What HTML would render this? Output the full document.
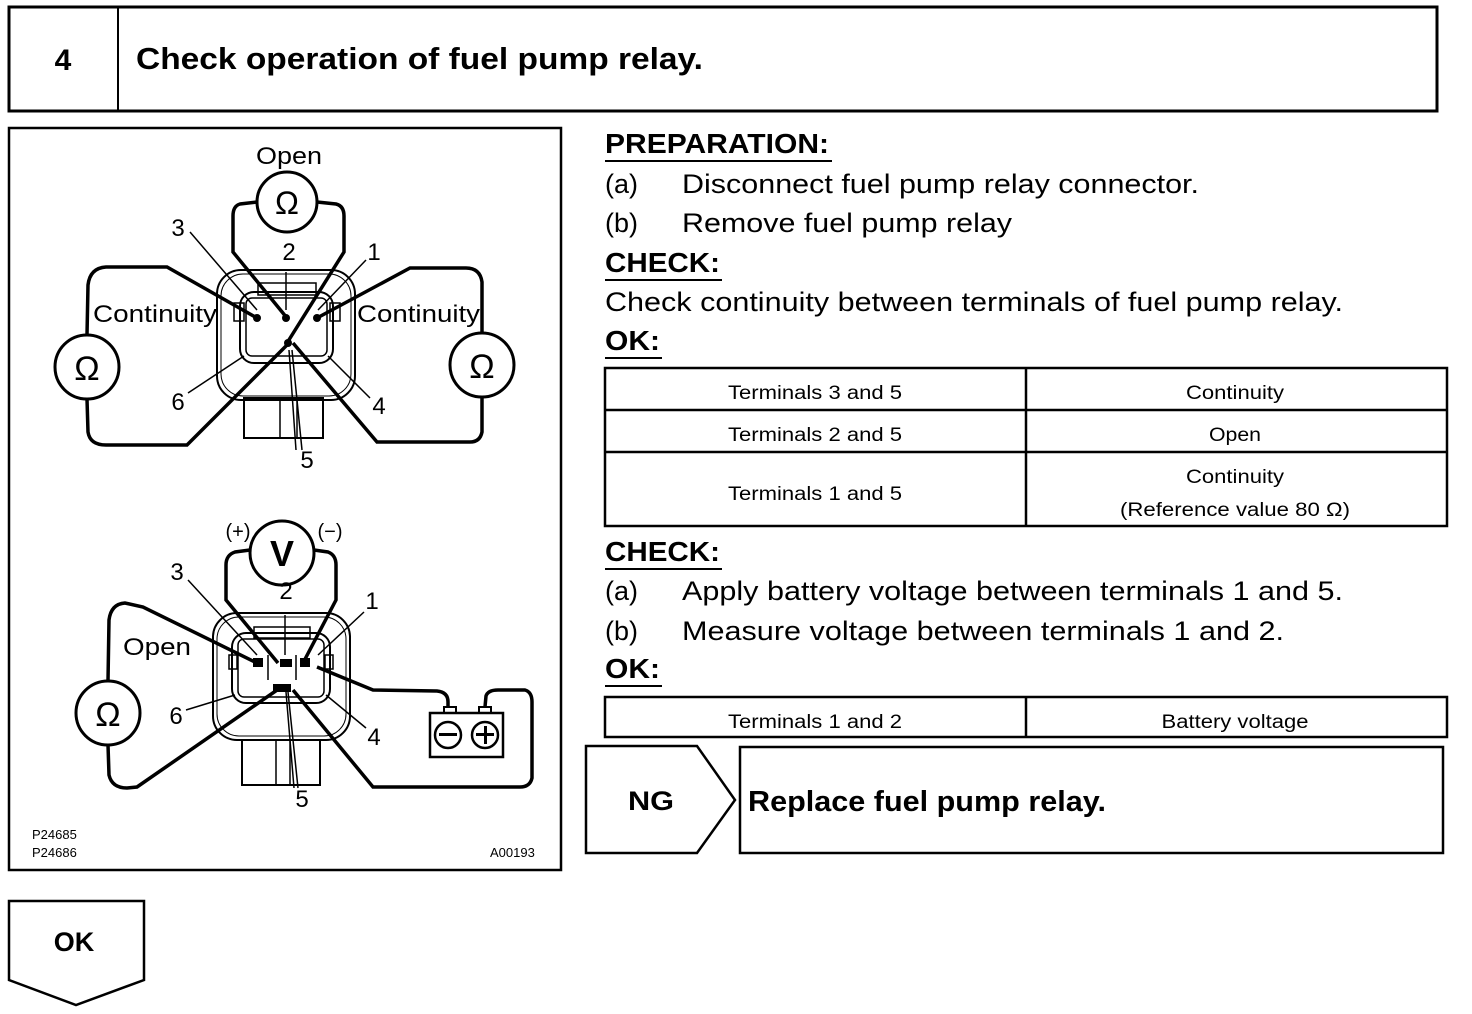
<!DOCTYPE html>
<html><head><meta charset="utf-8"><style>
html,body{margin:0;padding:0;background:#fff;}
svg{display:block;}
text{font-family:"Liberation Sans",Arial,sans-serif;fill:#000;}
</style></head><body>
<svg width="1472" height="1014" viewBox="0 0 1472 1014" xmlns="http://www.w3.org/2000/svg">
<!-- header -->
<rect x="9" y="7" width="1428" height="104" fill="none" stroke="#000" stroke-width="3"/>
<line x1="118" y1="7" x2="118" y2="111" stroke="#000" stroke-width="2"/>
<text x="63" y="70" font-size="30" font-weight="bold" text-anchor="middle">4</text>
<text x="136" y="69" font-size="31" font-weight="bold" textLength="567" lengthAdjust="spacingAndGlyphs">Check operation of fuel pump relay.</text>

<!-- diagram box -->
<rect x="9" y="128" width="552" height="742" fill="none" stroke="#000" stroke-width="2.5"/>

<g fill="none" stroke="#000">
<!-- TOP connector -->
<rect x="217" y="270" width="138" height="130" rx="24" stroke-width="2"/>
<rect x="221" y="274" width="130" height="122" rx="22" stroke-width="1"/>
<rect x="240" y="292" width="93" height="71" rx="14" stroke-width="2"/>
<rect x="246" y="298" width="81" height="58" rx="6" stroke-width="1.5"/>
<rect x="258" y="283" width="58" height="12" stroke-width="1.5"/>
<line x1="286" y1="272" x2="286" y2="310" stroke-width="1.5"/>
<rect x="234" y="303" width="10" height="18" stroke-width="1.5"/>
<rect x="330" y="303" width="10" height="18" stroke-width="1.5"/>
<rect x="244" y="398" width="79" height="40" stroke-width="2"/>
<line x1="280" y1="398" x2="280" y2="438" stroke-width="1.5"/>
<line x1="297" y1="398" x2="297" y2="438" stroke-width="1.5"/>
<!-- meters -->
<circle cx="287" cy="202" r="30" stroke-width="3"/>
<circle cx="87" cy="367" r="32" stroke-width="3"/>
<circle cx="482" cy="365" r="32" stroke-width="3"/>
<!-- wires -->
<path d="M257 202 L240 204 Q233 206 233 216 L233 252 L287 318" stroke-width="3.5"/>
<path d="M317 202 L336 204 Q344 206 344 216 L344 252 L287 343" stroke-width="3.5"/>
<path d="M87 335 L88 285 Q90 268 106 267 L167 267 L257 318" stroke-width="3.5"/>
<path d="M87 399 L88 432 Q90 445 106 445 L187 445 L290 342" stroke-width="3.5"/>
<path d="M482 333 L482 282 Q480 268 466 268 L410 268 L317 318" stroke-width="3.5"/>
<path d="M482 397 L482 432 Q480 442 470 442 L377 442 L293 343" stroke-width="3.5"/>
<!-- leader lines -->
<line x1="190" y1="232" x2="257" y2="310" stroke-width="1.5"/>
<line x1="366" y1="260" x2="318" y2="310" stroke-width="1.5"/>
<line x1="188" y1="393" x2="244" y2="356" stroke-width="1.5"/>
<line x1="370" y1="398" x2="328" y2="356" stroke-width="1.5"/>
<line x1="296" y1="450" x2="289" y2="350" stroke-width="1.5"/>
<line x1="302" y1="450" x2="292" y2="350" stroke-width="1.5"/>
</g>
<g fill="#000">
<circle cx="257" cy="318" r="4"/><circle cx="286" cy="318" r="4"/><circle cx="317" cy="318" r="4"/><circle cx="288" cy="343" r="4"/>
</g>
<text x="289" y="164" font-size="24" text-anchor="middle" textLength="66" lengthAdjust="spacingAndGlyphs">Open</text>
<text x="287" y="214" font-size="32" text-anchor="middle">Ω</text>
<text x="87" y="380" font-size="34" text-anchor="middle">Ω</text>
<text x="482" y="378" font-size="34" text-anchor="middle">Ω</text>
<text x="93" y="322" font-size="24" textLength="124" lengthAdjust="spacingAndGlyphs">Continuity</text>
<text x="357" y="322" font-size="24" textLength="123" lengthAdjust="spacingAndGlyphs">Continuity</text>
<text x="178" y="236" font-size="24" text-anchor="middle">3</text>
<text x="289" y="260" font-size="24" text-anchor="middle">2</text>
<text x="374" y="260" font-size="24" text-anchor="middle">1</text>
<text x="178" y="410" font-size="24" text-anchor="middle">6</text>
<text x="379" y="414" font-size="24" text-anchor="middle">4</text>
<text x="307" y="468" font-size="24" text-anchor="middle">5</text>

<!-- BOTTOM connector -->
<g fill="none" stroke="#000">
<rect x="213" y="613" width="137" height="127" rx="24" stroke-width="2"/>
<rect x="217" y="617" width="129" height="119" rx="22" stroke-width="1"/>
<rect x="232" y="633" width="98" height="70" rx="14" stroke-width="2"/>
<rect x="238" y="639" width="86" height="58" rx="6" stroke-width="1.5"/>
<rect x="254" y="627" width="56" height="11" stroke-width="1.5"/>
<line x1="285" y1="615" x2="285" y2="655" stroke-width="1.5"/>
<rect x="229" y="655" width="8" height="14" stroke-width="1.5"/>
<rect x="325" y="655" width="8" height="14" stroke-width="1.5"/>
<line x1="268" y1="655" x2="268" y2="680" stroke-width="1.5"/>
<line x1="296" y1="655" x2="296" y2="680" stroke-width="1.5"/>
<rect x="242" y="740" width="78" height="45" stroke-width="2"/>
<line x1="276" y1="740" x2="276" y2="785" stroke-width="1.5"/>
<line x1="290" y1="740" x2="290" y2="785" stroke-width="1.5"/>
<circle cx="282" cy="553" r="32" stroke-width="3"/>
<circle cx="108" cy="713" r="32" stroke-width="3"/>
<rect x="430" y="713" width="73" height="44" stroke-width="2.5"/>
<rect x="444" y="707" width="12" height="6" stroke-width="2"/>
<rect x="479" y="707" width="12" height="6" stroke-width="2"/>
<circle cx="448" cy="735" r="13" stroke-width="2.5"/>
<circle cx="485" cy="735" r="13" stroke-width="2.5"/>
<path d="M250 550 L235 552 Q226 555 226 565 L226 600 L278 663" stroke-width="3.5"/>
<path d="M314 550 L328 552 Q336 555 336 565 L336 600 L303 663" stroke-width="3.5"/>
<path d="M108 681 L109 620 Q111 604 125 603 L143 607 L257 663" stroke-width="3.5"/>
<path d="M108 745 L109 775 Q112 788 127 788 L137 787 L280 688" stroke-width="3.5"/>
<path d="M317 667 L373 690 L437 691 Q448 692 448 702 L448 707" stroke-width="3.5"/>
<path d="M485 707 L486 696 Q488 690 498 690 L525 690 Q532 692 532 702 L532 778 Q530 787 520 787 L373 787 L293 690" stroke-width="3.5"/>
<line x1="188" y1="580" x2="257" y2="655" stroke-width="1.5"/>
<line x1="364" y1="612" x2="318" y2="655" stroke-width="1.5"/>
<line x1="186" y1="710" x2="235" y2="695" stroke-width="1.5"/>
<line x1="366" y1="728" x2="326" y2="695" stroke-width="1.5"/>
<line x1="294" y1="788" x2="286" y2="692" stroke-width="1.5"/>
<line x1="298" y1="788" x2="288" y2="692" stroke-width="1.5"/>
</g>
<g fill="#000">
<rect x="253" y="658" width="10" height="9"/><rect x="280" y="659" width="12" height="8"/><rect x="300" y="658" width="10" height="9"/>
<rect x="273" y="684" width="18" height="8"/>
<rect x="439" y="733" width="18" height="3"/><rect x="476" y="733" width="18" height="3"/><rect x="484" y="726" width="3" height="18"/>
</g>
<text x="282" y="566" font-size="36" font-weight="bold" text-anchor="middle">V</text>
<text x="108" y="726" font-size="34" text-anchor="middle">Ω</text>
<text x="238" y="538" font-size="20" text-anchor="middle">(+)</text>
<text x="330" y="538" font-size="20" text-anchor="middle">(−)</text>
<text x="157" y="655" font-size="24" text-anchor="middle" textLength="68" lengthAdjust="spacingAndGlyphs">Open</text>
<text x="177" y="580" font-size="24" text-anchor="middle">3</text>
<text x="286" y="599" font-size="24" text-anchor="middle">2</text>
<text x="372" y="609" font-size="24" text-anchor="middle">1</text>
<text x="176" y="724" font-size="24" text-anchor="middle">6</text>
<text x="374" y="745" font-size="24" text-anchor="middle">4</text>
<text x="302" y="807" font-size="24" text-anchor="middle">5</text>

<text x="32" y="839" font-size="13">P24685</text>
<text x="32" y="857" font-size="13">P24686</text>
<text x="490" y="857" font-size="13">A00193</text>

<!-- right text -->
<text x="605" y="153" font-size="28" font-weight="bold" textLength="224" lengthAdjust="spacingAndGlyphs">PREPARATION:</text>
<line x1="605" y1="161" x2="832" y2="161" stroke="#000" stroke-width="2"/>
<text x="605" y="193" font-size="27">(a)</text><text x="682" y="193" font-size="27" textLength="517" lengthAdjust="spacingAndGlyphs">Disconnect fuel pump relay connector.</text>
<text x="605" y="232" font-size="27">(b)</text><text x="682" y="232" font-size="27" textLength="330" lengthAdjust="spacingAndGlyphs">Remove fuel pump relay</text>
<text x="605" y="272" font-size="28" font-weight="bold" textLength="115" lengthAdjust="spacingAndGlyphs">CHECK:</text>
<line x1="605" y1="280" x2="722" y2="280" stroke="#000" stroke-width="2"/>
<text x="605" y="311" font-size="27" textLength="738" lengthAdjust="spacingAndGlyphs">Check continuity between terminals of fuel pump relay.</text>
<text x="605" y="350" font-size="28" font-weight="bold" textLength="55" lengthAdjust="spacingAndGlyphs">OK:</text>
<line x1="605" y1="358" x2="662" y2="358" stroke="#000" stroke-width="2"/>

<g fill="none" stroke="#000" stroke-width="2.5">
<rect x="605" y="368" width="842" height="158"/>
<line x1="605" y1="410" x2="1447" y2="410"/>
<line x1="605" y1="452" x2="1447" y2="452"/>
<line x1="1026" y1="368" x2="1026" y2="526"/>
</g>
<g font-size="19" text-anchor="middle">
<text x="815" y="399" textLength="174" lengthAdjust="spacingAndGlyphs">Terminals 3 and 5</text><text x="1235" y="399" textLength="98" lengthAdjust="spacingAndGlyphs">Continuity</text>
<text x="815" y="441" textLength="174" lengthAdjust="spacingAndGlyphs">Terminals 2 and 5</text><text x="1235" y="441" textLength="52" lengthAdjust="spacingAndGlyphs">Open</text>
<text x="815" y="500" textLength="174" lengthAdjust="spacingAndGlyphs">Terminals 1 and 5</text><text x="1235" y="483" textLength="98" lengthAdjust="spacingAndGlyphs">Continuity</text>
<text x="1235" y="516" textLength="230" lengthAdjust="spacingAndGlyphs">(Reference value 80 Ω)</text>
</g>

<text x="605" y="561" font-size="28" font-weight="bold" textLength="115" lengthAdjust="spacingAndGlyphs">CHECK:</text>
<line x1="605" y1="569" x2="722" y2="569" stroke="#000" stroke-width="2"/>
<text x="605" y="600" font-size="27">(a)</text><text x="682" y="600" font-size="27" textLength="661" lengthAdjust="spacingAndGlyphs">Apply battery voltage between terminals 1 and 5.</text>
<text x="605" y="640" font-size="27">(b)</text><text x="682" y="640" font-size="27" textLength="602" lengthAdjust="spacingAndGlyphs">Measure voltage between terminals 1 and 2.</text>
<text x="605" y="678" font-size="28" font-weight="bold" textLength="55" lengthAdjust="spacingAndGlyphs">OK:</text>
<line x1="605" y1="686" x2="662" y2="686" stroke="#000" stroke-width="2"/>

<g fill="none" stroke="#000" stroke-width="2.5">
<rect x="605" y="697" width="842" height="40"/>
<line x1="1026" y1="697" x2="1026" y2="737"/>
</g>
<text x="815" y="728" font-size="19" text-anchor="middle" textLength="174" lengthAdjust="spacingAndGlyphs">Terminals 1 and 2</text>
<text x="1235" y="728" font-size="19" text-anchor="middle" textLength="147" lengthAdjust="spacingAndGlyphs">Battery voltage</text>

<!-- NG -->
<path d="M586 746 L697 746 L735 800 L697 853 L586 853 Z" fill="none" stroke="#000" stroke-width="2.5"/>
<text x="651" y="810" font-size="27" font-weight="bold" text-anchor="middle" textLength="46" lengthAdjust="spacingAndGlyphs">NG</text>
<rect x="740" y="747" width="703" height="106" fill="none" stroke="#000" stroke-width="2.5"/>
<text x="748" y="811" font-size="29" font-weight="bold" textLength="358" lengthAdjust="spacingAndGlyphs">Replace fuel pump relay.</text>

<!-- OK -->
<path d="M9 901 L144 901 L144 980 L76 1005 L9 980 Z" fill="none" stroke="#000" stroke-width="2.5"/>
<text x="74" y="951" font-size="27" font-weight="bold" text-anchor="middle">OK</text>
</svg>
</body></html>
